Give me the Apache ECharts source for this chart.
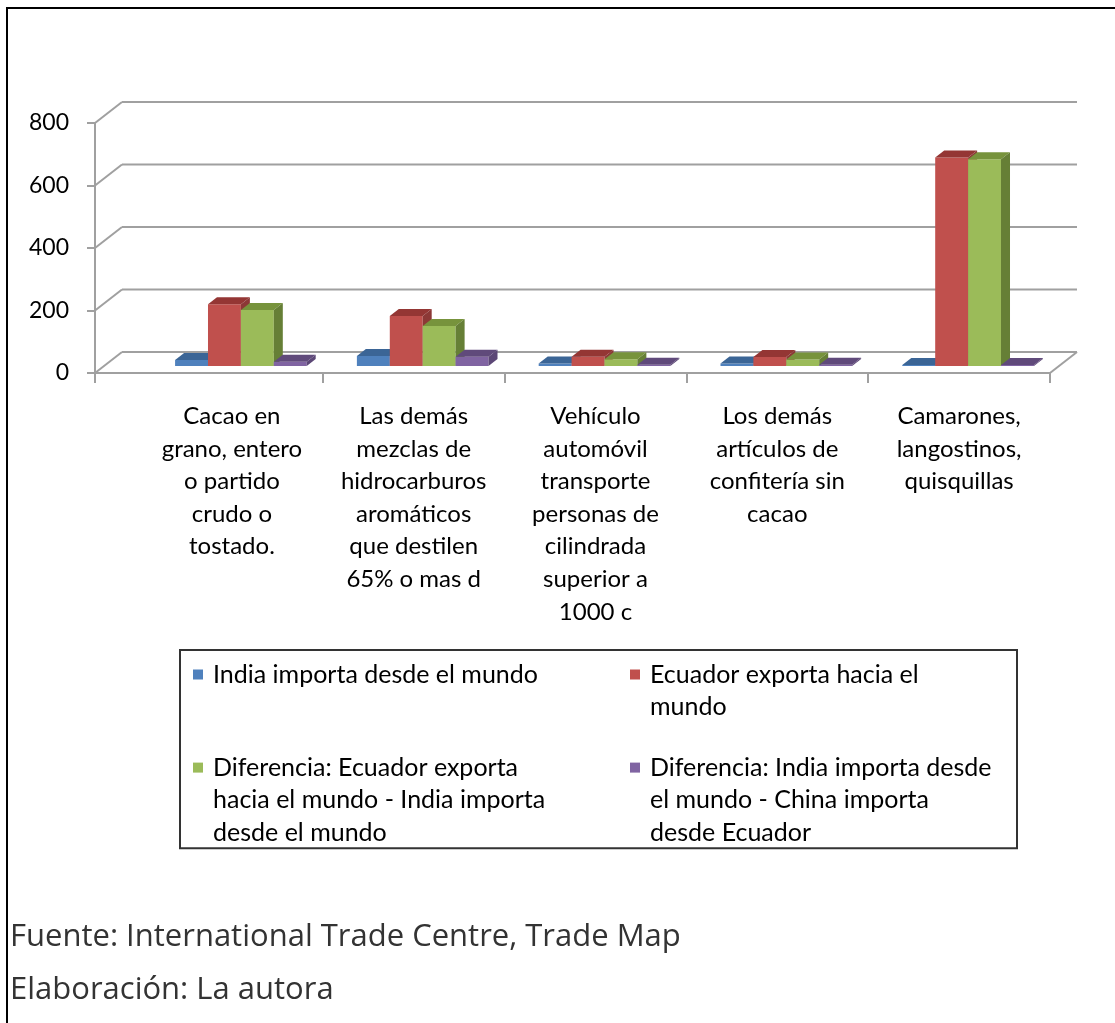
<!DOCTYPE html>
<html>
<head>
<meta charset="utf-8">
<script src="https://cdn.jsdelivr.net/npm/echarts@6/dist/echarts.min.js"></script>
<style>
  html, body { margin: 0; padding: 0; background: #fff; }
  #chart { width: 1115px; height: 1023px; }
</style>
</head>
<body>
<div id="chart"></div>
<script>
  // categorias (con saltos de linea como en el original)
  var categories = [
    'Cacao en\ngrano, entero\no partido\ncrudo o\ntostado.',
    'Las demás\nmezclas de\nhidrocarburos\naromáticos\nque destilen\n65% o mas d',
    'Vehículo\nautomóvil\ntransporte\npersonas de\ncilindrada\nsuperior a\n1000 c',
    'Los demás\nartículos de\nconfitería sin\ncacao',
    'Camarones,\nlangostinos,\nquisquillas'
  ]
  var seriesNames = [
    'India importa desde el mundo',
    'Ecuador exporta hacia el mundo',
    'Diferencia: Ecuador exporta hacia el mundo - India importa desde el mundo',
    'Diferencia: India importa desde el mundo - China importa desde Ecuador'
  ]
  var legendLines = [
    ['India importa desde el mundo', ''],
    ['Ecuador exporta hacia el', 'mundo'],
    ['Diferencia: Ecuador exporta', 'hacia el mundo - India importa', 'desde el mundo'],
    ['Diferencia: India importa desde', 'el mundo - China importa', 'desde Ecuador']
  ]
  var indiaImporta = [19, 32, 8, 8, 3]
  var ecuadorExporta = [198, 160, 30, 29, 667]
  var difEcuadorIndia = [179, 128, 22, 21, 662]
  var difIndiaChina = [14, 30, 4, 4, 3]
  var yTicks = [0, 200, 400, 600, 800]
  var sourceText = 'Fuente: International Trade Centre, Trade Map'
  var authorText = 'Elaboración: La autora'

  var seriesData = [indiaImporta, ecuadorExporta, difEcuadorIndia, difIndiaChina]
  var colors = [
    { front: '#4F81BD', top: '#3B6596', side: '#385D8A' },
    { front: '#C0504D', top: '#943634', side: '#8C3836' },
    { front: '#9BBB59', top: '#77933C', side: '#667F36' },
    { front: '#8064A2', top: '#604A7B', side: '#5C4776' }
  ]

  var FONT = 'Lato, "Open Sans", sans-serif'
  var AXIS_OFFSET = 46      // eje de valores a la izquierda de las categorias
  var DX = 27, DY = -21     // profundidad del piso
  var BAR_FRAC = 0.181
  var GRID_COLOR = '#a0a0a0'

  function seg(x1, y1, x2, y2) {
    return {
      type: 'line',
      shape: { x1: x1, y1: y1, x2: x2, y2: y2 },
      style: { stroke: GRID_COLOR, lineWidth: 2 }
    }
  }

  // paredes, piso y lineas de division en 3D
  function frameRenderer(params, api) {
    var bandW = api.size([1, 0])[0]
    var first = api.coord([0, 0])
    var last = api.coord([categories.length - 1, 0])
    var xa = first[0] - bandW / 2 - AXIS_OFFSET
    var xe = last[0] + bandW / 2
    var y0 = first[1]
    var children = []
    yTicks.forEach(function (v) {
      var y = api.coord([0, v])[1]
      children.push(seg(xa, y, xa + DX, y + DY))
      children.push(seg(xa + DX, y + DY, xe + DX, y + DY))
    })
    children.push(seg(xa, y0, xe, y0))
    children.push(seg(xe, y0, xe + DX, y0 + DY))
    children.push(seg(xa, y0, xa, y0 + 10))
    return { type: 'group', children: children }
  }

  function barRenderer(sIdx) {
    return function (params, api) {
      var cat = api.value(0)
      var val = api.value(1)
      var bandW = api.size([1, 0])[0]
      var barW = bandW * BAR_FRAC
      var base = api.coord([cat, 0])
      var top = api.coord([cat, val])
      var fdx = DX / 3, fdy = DY / 3
      var x0 = base[0] - 2 * barW + sIdx * barW + fdx
      var x1 = x0 + barW
      var yb = base[1] + fdy
      var yt = top[1] + fdy
      var c = colors[sIdx]
      return {
        type: 'group',
        children: [
          { type: 'rect', shape: { x: x0, y: yt, width: barW, height: yb - yt }, style: { fill: c.front } },
          { type: 'polygon', shape: { points: [[x0, yt], [x1, yt], [x1 + fdx, yt + fdy], [x0 + fdx, yt + fdy]] }, style: { fill: c.top } },
          { type: 'polygon', shape: { points: [[x1, yb], [x1, yt], [x1 + fdx, yt + fdy], [x1 + fdx, yb + fdy]] }, style: { fill: c.side } }
        ]
      }
    }
  }

  var series = [{
    type: 'custom',
    name: 'frame',
    silent: true,
    renderItem: frameRenderer,
    data: [[0, 0]]
  }]
  seriesNames.forEach(function (name, i) {
    series.push({
      type: 'custom',
      name: name,
      color: colors[i].front,
      renderItem: barRenderer(i),
      data: seriesData[i].map(function (v, k) { return [k, v] })
    })
  })

  var rich = {
    s: { width: 10, lineHeight: 32.6 },
    g: { width: 10 },
    sp: { width: 10, lineHeight: 13 },
    a: { width: 383, fontFamily: FONT, fontSize: 25, lineHeight: 32.6, color: '#000' },
    b: { width: 357, fontFamily: FONT, fontSize: 25, lineHeight: 32.6, color: '#000' }
  }
  colors.forEach(function (c, i) {
    rich['m' + i] = { width: 10, height: 10, backgroundColor: c.front, verticalAlign: 'middle' }
  })

  var myChart = echarts.init(document.getElementById('chart'))
  myChart.setOption({
    animation: false,
    backgroundColor: '#fff',
    grid: { left: 141, right: 65, top: 123, bottom: 650 },
    xAxis: {
      type: 'category',
      data: categories,
      axisLine: { show: false },
      axisTick: {
        show: true,
        length: 10,
        interval: function (index) { return index > 0 },
        lineStyle: { color: GRID_COLOR, width: 2 }
      },
      axisLabel: {
        interval: 0,
        margin: 27,
        fontFamily: FONT,
        fontSize: 24,
        lineHeight: 32.6,
        color: '#000',
        align: 'center'
      },
      splitLine: { show: false }
    },
    yAxis: {
      type: 'value',
      min: 0,
      max: 800,
      interval: 200,
      offset: AXIS_OFFSET,
      axisLine: { show: true, lineStyle: { color: GRID_COLOR, width: 2 } },
      axisTick: { show: true, length: 8, lineStyle: { color: GRID_COLOR, width: 2 } },
      axisLabel: { margin: 26, fontFamily: FONT, fontSize: 23, color: '#000' },
      splitLine: { show: false }
    },
    legend: {
      data: seriesNames,
      left: 180,
      top: 650,
      width: 830,
      padding: [12, 10, 3, 8],
      itemGap: 29,
      itemWidth: 0,
      itemHeight: 0,
      icon: 'rect',
      borderColor: '#333',
      borderWidth: 2,
      selectedMode: false,
      formatter: function (name) {
        var i = seriesNames.indexOf(name)
        var col = i % 2 === 0 ? 'a' : 'b'
        var lines = legendLines[i].map(function (ln, k) {
          var lead = k === 0 ? '{m' + i + '|}' : '{s|}'
          return ln ? lead + '{g|}{' + col + '|' + ln + '}' : lead
        })
        if (i < 2) lines.push('{sp|}')
        return lines.join('\n')
      },
      textStyle: { rich: rich }
    },
    graphic: [
      { type: 'line', shape: { x1: 7, y1: 8, x2: 1115, y2: 8 }, style: { stroke: '#000', lineWidth: 2 } },
      { type: 'line', shape: { x1: 7, y1: 7, x2: 7, y2: 1023 }, style: { stroke: '#000', lineWidth: 2 } },
      { type: 'text', left: 10, top: 922, style: { text: sourceText, font: '31px "Open Sans", sans-serif', fill: '#333' } },
      { type: 'text', left: 10, top: 975, style: { text: authorText, font: '31px "Open Sans", sans-serif', fill: '#333' } }
    ],
    series: series
  })
</script>
</body>
</html>
